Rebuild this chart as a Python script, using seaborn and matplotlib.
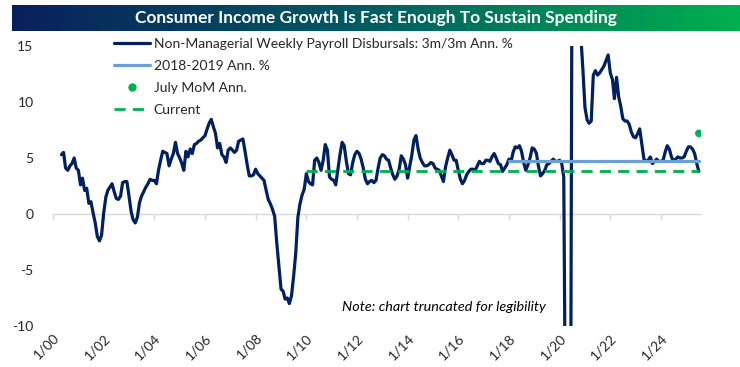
import numpy as np
import pandas as pd
import matplotlib
matplotlib.use("Agg")
import matplotlib.pyplot as plt
import seaborn as sns
from matplotlib.colors import LinearSegmentedColormap
from matplotlib.lines import Line2D

# Non-managerial weekly payroll disbursals, 3m/3m annualized %, monthly from May 2000
payroll_start = "2000-05-01"
payroll_values = [
    5.3, 5.5, 4.1, 3.9, 4.3, 4.5, 5.0, 4.1,                          # 2000 (May-Dec)
    3.9, 2.6, 3.2, 2.1, 2.3, 0.95, 1.1, 0.1, -0.8, -2.0, -2.4, -1.9,  # 2001
    0.1, 1.5, 2.1, 2.4, 2.7, 2.0, 1.4, 1.3, 1.6, 2.8, 2.9, 2.9,      # 2002
    1.6, 0.2, -0.5, -0.8, -0.3, 1.0, 1.6, 2.0, 2.4, 2.7, 3.1, 3.0,   # 2003
    3.0, 2.7, 3.9, 4.8, 5.6, 5.5, 5.4, 4.3, 4.9, 5.4, 6.4, 5.4,      # 2004
    5.0, 4.5, 3.9, 5.6, 5.1, 5.8, 5.4, 6.2, 6.3, 6.5, 6.6, 6.8,      # 2005
    7.0, 7.6, 8.1, 8.45, 7.8, 7.2, 5.9, 6.3, 5.3, 5.1, 4.6, 5.7,     # 2006
    5.9, 5.7, 5.5, 5.7, 6.5, 6.6, 6.7, 5.6, 4.4, 3.4, 3.4, 3.5,      # 2007
    4.0, 3.6, 3.4, 3.2, 3.0, 2.1, 1.3, 0.9, 0.4, -0.2, -2.6, -4.6,   # 2008
    -6.7, -6.9, -7.6, -7.5, -8.0, -7.3, -5.6, -3.5, -0.3, 0.9, 1.7, 2.2,  # 2009
    3.6, 2.9, 2.7, 2.6, 4.8, 5.0, 4.6, 3.9, 4.8, 6.2, 5.7, 3.3,      # 2010
    3.1, 3.0, 2.6, 4.0, 5.3, 6.4, 6.1, 4.7, 3.6, 3.5, 4.6, 5.3,      # 2011
    5.6, 5.4, 4.9, 4.1, 3.1, 2.7, 2.9, 3.0, 2.8, 3.0, 4.1, 5.0,      # 2012
    5.3, 5.2, 4.9, 4.8, 4.1, 3.5, 3.1, 3.4, 4.0, 5.2, 4.9, 4.4,      # 2013
    3.2, 4.3, 5.2, 6.6, 7.0, 5.8, 5.0, 4.6, 4.3, 4.3, 4.4, 4.6,      # 2014
    4.5, 4.1, 4.0, 3.9, 3.4, 2.9, 4.2, 5.0, 5.7, 5.3, 4.8, 4.8,      # 2015
    3.9, 3.1, 2.7, 3.0, 3.5, 3.8, 4.0, 4.0, 3.9, 4.3, 4.7, 4.5,      # 2016
    4.5, 4.8, 4.8, 4.7, 5.1, 5.4, 5.0, 4.5, 4.4, 3.8, 4.1, 4.4,      # 2017
    4.9, 4.7, 5.5, 6.0, 5.9, 6.1, 5.6, 4.6, 3.9, 4.4, 5.0, 5.9,      # 2018
    5.8, 5.4, 4.3, 3.4, 3.6, 3.9, 4.4, 4.5, 4.7, 4.9, 4.7, 4.7,      # 2019
    4.8, 4.5, 3.3, -25.0, -40.0, -35.0, 30.0, 45.0, 35.0, 22.0, 16.0, 13.0,  # 2020
    9.5, 8.4, 8.1, 8.3, 12.4, 12.8, 12.4, 12.6, 12.9, 13.2, 13.7, 14.2,      # 2021
    12.6, 12.0, 10.3, 12.2, 10.5, 9.6, 8.5, 8.3, 8.3, 8.0, 7.3, 6.9,         # 2022
    6.8, 7.2, 7.6, 6.2, 4.9, 4.7, 4.8, 5.1, 4.5, 4.7, 4.9, 4.7,      # 2023
    4.7, 4.8, 5.5, 6.1, 5.8, 5.1, 4.7, 4.9, 5.1, 5.0, 5.0, 5.1,      # 2024
    5.6, 6.0, 6.0, 5.8, 5.4, 4.5, 3.8,                               # 2025 (Jan-Jul)
]

avg_2018_2019 = 4.76
avg_start = "2018-01-01"
current_value = 3.8
current_start = "2010-01-01"
july_mom_date = "2025-07-01"
july_mom_value = 7.2

tick_years = list(range(2000, 2025, 2))
tick_labels = ["1/%02d" % (y % 100) for y in tick_years]
y_ticks = [-10, -5, 0, 5, 10, 15]

navy = "#002060"
light_blue = "#6a9fd8"
green = "#00b050"

dates = pd.date_range(payroll_start, periods=len(payroll_values), freq="MS")
df = pd.DataFrame({"date": dates, "value": payroll_values})
avg_df = pd.DataFrame({"date": dates[dates >= avg_start]})
avg_df["value"] = avg_2018_2019
cur_df = pd.DataFrame({"date": dates[dates >= current_start]})
cur_df["value"] = current_value
dot_df = pd.DataFrame({"date": [pd.Timestamp(july_mom_date)], "value": [july_mom_value]})

sns.set_style("white")
plt.rcParams["font.family"] = ["Lato", "DejaVu Sans"]

fig = plt.figure(figsize=(7.4, 3.67), dpi=100)
ax = fig.add_axes([53 / 740, 1 - 326 / 367, 648 / 740, 280 / 367])

sns.lineplot(data=df, x="date", y="value", ax=ax, color=navy, linewidth=2.3)
sns.lineplot(data=avg_df, x="date", y="value", ax=ax, color=light_blue, linewidth=2.3)
sns.lineplot(data=cur_df, x="date", y="value", ax=ax, color=green, linewidth=2.0,
             linestyle=(0, (4, 2.6)))
sns.scatterplot(data=dot_df, x="date", y="value", ax=ax, color=green, s=30,
                edgecolor="none", zorder=5)

ax.set_ylim(-10, 15)
ax.set_xlim(pd.Timestamp("2000-01-01"), pd.Timestamp("2025-08-01"))
ax.set_yticks(y_ticks)
ax.set_yticklabels([str(v) for v in y_ticks])
tick_pos = [pd.Timestamp("%d-01-01" % y) for y in tick_years]
ax.set_xticks(tick_pos)
ax.set_xticklabels(tick_labels, rotation=45, ha="right", rotation_mode="anchor")
ax.tick_params(axis="x", length=0, pad=4, labelsize=10)
ax.tick_params(axis="y", length=0, pad=14, labelsize=10)
ax.set_xlabel("")
ax.set_ylabel("")
for s in ax.spines.values():
    s.set_visible(False)

# zero axis line with tick marks
zero_ax = ax.secondary_xaxis(0, transform=ax.transData)
zero_ax.set_xticks(tick_pos)
zero_ax.tick_params(length=4, color="#d9d9d9", labelbottom=False, width=1)
zero_ax.spines["bottom"].set_color("#d9d9d9")
zero_ax.spines["bottom"].set_linewidth(1)
zero_ax.set_zorder(0)

ax.text(0.446, 0.068, "Note: chart truncated for legibility", transform=ax.transAxes,
        fontsize=10.4, style="italic", ha="left", va="center", color="#000000")

handles = [
    Line2D([], [], color=navy, linewidth=2.3),
    Line2D([], [], color=light_blue, linewidth=2.3),
    Line2D([], [], color=green, marker="o", linestyle="none", markersize=5),
    Line2D([], [], color=green, linewidth=2.0, linestyle=(0, (4, 2.6))),
]
labels = ["Non-Managerial Weekly Payroll Disbursals: 3m/3m Ann. %",
          "2018-2019 Ann. %", "July MoM Ann.", "Current"]
ax.legend(handles, labels, loc="upper left", bbox_to_anchor=(0.086, 1.05),
          frameon=False, fontsize=10, handlelength=2.6, handletextpad=0.25,
          labelspacing=0.72, borderaxespad=0)

# title banner with gradient
bax = fig.add_axes([12 / 740, 1 - 31 / 367, 728 / 740, 26 / 367])
cmap = LinearSegmentedColormap.from_list("banner", ["#0a1f5c", "#005e62", "#00b050"])
bax.imshow(np.linspace(0, 1, 256).reshape(1, -1), aspect="auto", cmap=cmap,
           extent=(0, 1, 0, 1))
bax.set_xlim(0, 1)
bax.set_ylim(0, 1)
bax.axis("off")
bax.text(0.5, 0.5, "Consumer Income Growth Is Fast Enough To Sustain Spending",
         color="white", fontsize=12.5, fontweight="bold", ha="center", va="center")

fig.savefig("out.png", dpi=100)
